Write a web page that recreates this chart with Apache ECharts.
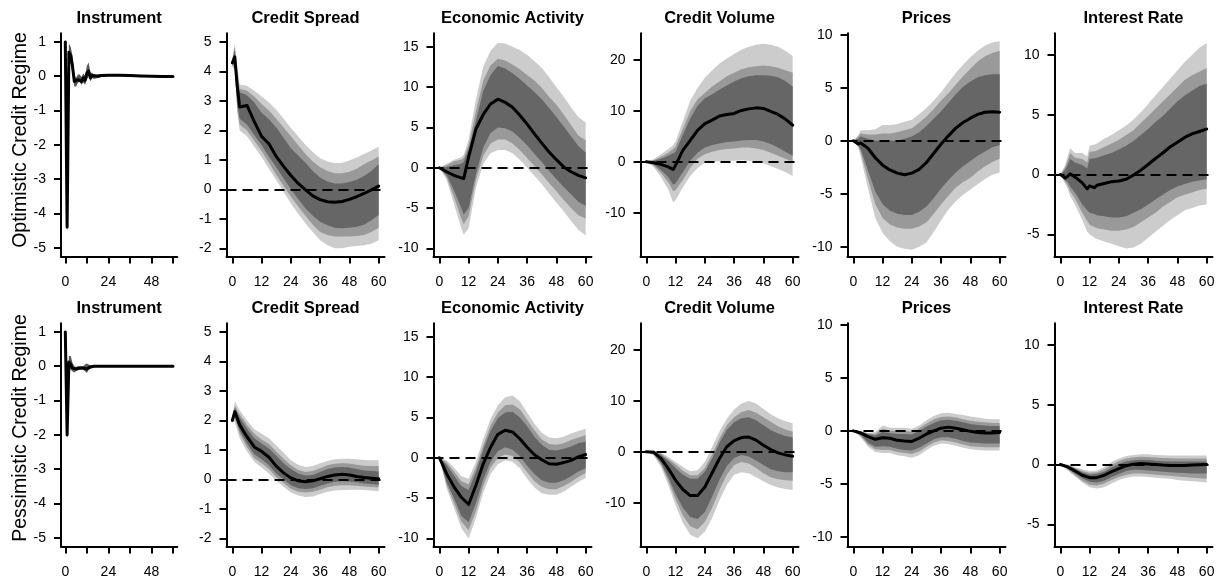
<!DOCTYPE html>
<html><head><meta charset="utf-8">
<script src="https://cdn.jsdelivr.net/npm/echarts@6/dist/echarts.min.js"></script>
<style>html,body{margin:0;padding:0;background:#fff}#chart{width:1221px;height:580px}</style>
</head><body><div id="chart"></div>
<script>
// ---------- labels / ticks ----------
const VARIABLES = ['Instrument','Credit Spread','Economic Activity','Credit Volume','Prices','Interest Rate'];
const REGIMES = ['Optimistic Credit Regime','Pessimistic Credit Regime'];
const X_TICKS = [0,12,24,36,48,60];
const X_LABELS_NARROW = [0,24,48];
const X_LIMITS = [-2.4, 62.4];
const Y_TICKS = [
  [-5,-4,-3,-2,-1,0,1],
  [-2,-1,0,1,2,3,4,5],
  [-10,-5,0,5,10,15],
  [-10,0,10,20],
  [-10,-5,0,5,10],
  [-5,0,5,10]
];
const Y_LIMITS = [[-5.25,1.25],[-2.28,5.3],[-11.0,16.66],[-18.6,25.25],[-10.93,10.16],[-6.86,11.81]];

// ---------- horizons ----------
const H3 = [0,3,6,9,12,15,18,21,24,27,30,33,36,39,42,45,48,51,54,57,60];
const H_INST = [0,1,2,3,4,5,6,7,8,9,10,11,12,13,14,15,16,18,20,24,30,36,42,48,54,60];

// ---------- Instrument ----------
const instOpt_med = [1.0,-4.4,0.7,0.6,0.3,-0.15,-0.2,-0.1,-0.05,-0.15,-0.05,-0.12,0.08,0.15,-0.05,0.02,-0.02,0.0,0.02,0.03,0.03,0.02,0.01,0.0,-0.01,-0.01];
const instOpt_hi  = [1.03,-4.25,0.95,0.85,0.6,0.05,-0.05,0.05,0.05,-0.02,0.08,0.02,0.3,0.4,0.1,0.1,0.05,0.05,0.06,0.06,0.05,0.04,0.03,0.02,0.01,0.01];
const instOpt_lo  = [0.97,-4.55,0.5,0.4,0.05,-0.3,-0.3,-0.2,-0.15,-0.25,-0.18,-0.25,-0.1,0.0,-0.15,-0.05,-0.08,-0.05,-0.02,0.0,0.0,0.0,-0.01,-0.02,-0.03,-0.03];
const instPes_med = [1.0,-2.0,0.12,0.05,-0.05,-0.1,-0.08,-0.06,-0.05,-0.05,-0.05,-0.06,-0.08,-0.03,-0.02,0.0,0.0,0.0,0.0,0.0,0.0,0.0,0.0,0.0,0.0,0.0];
const instPes_hi  = [1.03,-1.85,0.3,0.3,0.1,0.0,-0.02,0.0,0.0,0.0,0.0,0.05,0.08,0.05,0.03,0.03,0.02,0.02,0.02,0.02,0.02,0.02,0.02,0.02,0.02,0.02];
const instPes_lo  = [0.97,-2.15,-0.05,-0.1,-0.15,-0.18,-0.14,-0.12,-0.1,-0.1,-0.1,-0.15,-0.2,-0.1,-0.07,-0.04,-0.03,-0.02,-0.02,-0.02,-0.02,-0.02,-0.02,-0.02,-0.02,-0.02];

// ---------- Credit Spread ----------
const csOpt_x   = [0,1,2,3,6,9,12,15,18,21,24,27,30,33,36,39,42,45,48,51,54,57,60];
const csOpt_med = [4.3,4.5,3.5,2.8,2.85,2.3,1.8,1.55,1.12,0.78,0.47,0.2,-0.02,-0.22,-0.35,-0.42,-0.44,-0.41,-0.34,-0.25,-0.14,-0.02,0.11];
const csOpt_hi3 = [4.45,4.95,4.2,3.56,3.52,3.35,3.16,2.95,2.7,2.4,2.08,1.8,1.51,1.27,1.06,0.95,0.89,0.9,0.98,1.08,1.2,1.32,1.45];
const csOpt_lo3 = [4.15,4.05,2.6,2.0,1.8,1.45,1.1,0.7,0.32,-0.08,-0.48,-0.83,-1.16,-1.45,-1.73,-1.9,-2.0,-2.0,-1.95,-1.92,-1.9,-1.85,-1.73];
const csOpt_hi2 = [4.4,4.85,4.0,3.42,3.35,3.15,2.9,2.68,2.4,2.1,1.8,1.5,1.2,0.95,0.75,0.62,0.55,0.55,0.6,0.7,0.85,0.98,1.12];
const csOpt_lo2 = [4.2,4.15,2.75,2.2,2.0,1.65,1.3,0.9,0.5,0.12,-0.25,-0.58,-0.9,-1.2,-1.45,-1.55,-1.6,-1.6,-1.6,-1.58,-1.55,-1.45,-1.3];
const csOpt_hi1 = [4.38,4.75,3.85,3.3,3.2,2.95,2.6,2.38,2.1,1.75,1.4,1.15,0.9,0.62,0.4,0.27,0.2,0.2,0.25,0.33,0.45,0.62,0.85];
const csOpt_lo1 = [4.22,4.25,2.9,2.4,2.2,1.85,1.5,1.12,0.75,0.38,0.0,-0.33,-0.65,-0.9,-1.1,-1.22,-1.3,-1.32,-1.3,-1.27,-1.2,-1.05,-0.87];

const csPes_x   = [0,1,3,6,9,12,15,18,21,24,27,30,33,36,39,42,45,48,51,54,57,60];
const csPes_med = [2.0,2.3,1.85,1.45,1.1,0.95,0.75,0.45,0.22,0.05,-0.05,-0.08,-0.05,0.02,0.1,0.15,0.17,0.15,0.1,0.06,0.04,0.02];
const csPes_hi3 = [2.05,2.65,2.35,2.0,1.7,1.55,1.4,1.15,0.9,0.65,0.5,0.42,0.45,0.55,0.62,0.68,0.7,0.7,0.68,0.66,0.65,0.65];
const csPes_lo3 = [1.95,1.95,1.4,0.95,0.6,0.4,0.2,-0.05,-0.25,-0.45,-0.55,-0.6,-0.58,-0.5,-0.42,-0.38,-0.36,-0.35,-0.35,-0.36,-0.38,-0.4];
const csPes_hi2 = [2.04,2.5,2.2,1.85,1.55,1.35,1.2,0.95,0.7,0.48,0.32,0.25,0.28,0.38,0.48,0.53,0.55,0.54,0.5,0.46,0.45,0.45];
const csPes_lo2 = [1.96,2.08,1.55,1.1,0.72,0.55,0.35,0.08,-0.12,-0.32,-0.42,-0.45,-0.42,-0.35,-0.27,-0.22,-0.2,-0.2,-0.22,-0.24,-0.26,-0.28];
const csPes_hi1 = [2.03,2.42,2.1,1.72,1.4,1.22,1.05,0.8,0.55,0.35,0.2,0.13,0.15,0.25,0.35,0.4,0.42,0.4,0.35,0.3,0.28,0.27];
const csPes_lo1 = [1.97,2.18,1.65,1.22,0.85,0.68,0.48,0.2,0.0,-0.2,-0.3,-0.33,-0.3,-0.22,-0.14,-0.08,-0.06,-0.07,-0.1,-0.14,-0.16,-0.18];

// ---------- Economic Activity ----------
const eaOpt_x   = [0,3,6,9,10,12,15,18,21,24,27,30,33,36,39,42,45,48,51,54,57,60];
const eaOpt_med = [0,-0.5,-0.95,-1.25,-1.35,1.3,4.8,6.6,7.9,8.5,8.1,7.5,6.5,5.4,4.2,3.05,1.95,1.0,0.1,-0.5,-0.95,-1.25];
const eaOpt_hi3 = [0,0.5,1.0,1.3,1.6,3.5,8.5,12.5,14.5,15.5,15.4,15.0,14.6,14.0,13.2,12.4,11.2,10.0,8.8,7.5,6.3,5.6];
const eaOpt_lo3 = [0,-1.5,-4.5,-7.5,-8.3,-7.5,-2.5,0.5,1.8,2.2,2.2,1.8,1.0,0.0,-1.0,-2.0,-3.2,-4.3,-5.4,-6.6,-7.7,-8.4];
const eaOpt_hi2 = [0,0.3,0.8,1.0,1.2,2.8,7.0,10.8,12.7,13.5,13.3,12.8,12.2,11.5,10.8,9.9,8.8,7.8,6.6,5.3,4.0,3.4];
const eaOpt_lo2 = [0,-1.2,-3.6,-6.3,-7.0,-6.0,-1.5,1.5,3.0,3.5,3.5,3.0,2.2,1.2,0.2,-0.8,-1.9,-2.9,-4.0,-5.0,-5.9,-6.3];
const eaOpt_hi1 = [0,0.1,0.3,0.5,0.7,2.3,5.8,9.5,11.5,12.6,12.3,11.7,11.0,10.2,9.4,8.5,7.4,6.3,5.1,3.9,2.7,1.9];
const eaOpt_lo1 = [0,-0.9,-2.8,-5.0,-5.8,-5.0,-0.8,2.5,4.3,5.0,4.9,4.5,3.7,2.8,1.7,0.7,-0.4,-1.4,-2.4,-3.3,-4.2,-4.7];

const eaPes_med = [0,-2.0,-3.6,-4.9,-5.8,-3.4,-0.75,1.3,2.9,3.4,3.2,2.35,1.3,0.37,-0.25,-0.75,-0.8,-0.6,-0.33,0.1,0.4];
const eaPes_hi3 = [0,-0.3,-1.2,-2.3,-2.6,-0.5,2.3,4.8,6.5,7.5,7.7,7.0,5.6,4.2,3.1,2.5,2.4,2.6,3.0,3.3,3.6];
const eaPes_lo3 = [0,-3.8,-6.2,-8.7,-10.0,-7.5,-4.3,-2.0,-0.8,-0.3,-0.5,-1.3,-2.6,-3.7,-4.4,-4.6,-4.6,-4.2,-3.6,-3.0,-2.5];
const eaPes_hi2 = [0,-0.6,-1.7,-2.9,-3.3,-1.2,1.5,4.0,5.6,6.5,6.6,6.0,4.7,3.4,2.3,1.7,1.6,1.8,2.2,2.5,2.8];
const eaPes_lo2 = [0,-3.4,-5.6,-7.9,-9.0,-6.6,-3.5,-1.2,0.0,0.4,0.2,-0.6,-1.8,-2.9,-3.6,-3.9,-3.9,-3.5,-3.0,-2.4,-1.9];
const eaPes_hi1 = [0,-0.9,-2.2,-3.5,-4.0,-1.8,1.0,3.3,4.9,5.6,5.7,5.0,3.9,2.6,1.6,1.0,0.9,1.1,1.4,1.8,2.0];
const eaPes_lo1 = [0,-3.0,-5.0,-7.2,-8.0,-5.6,-2.7,-0.5,0.8,1.3,1.0,0.2,-1.0,-2.0,-2.8,-3.1,-3.1,-2.8,-2.3,-1.7,-1.3];

// ---------- Credit Volume ----------
const cvOpt_x   = [0,3,6,9,11,12,15,18,21,24,27,30,33,36,39,42,45,48,51,54,57,60];
const cvOpt_med = [0,-0.2,-0.5,-1.0,-1.5,-0.65,2.3,4.2,6.2,7.5,8.2,9.0,9.3,9.5,10.1,10.4,10.6,10.5,9.9,9.3,8.4,7.2];
const cvOpt_hi3 = [0,0.5,1.5,2.5,3.3,4.0,8.0,12.0,14.5,16.5,18.0,19.3,20.3,21.2,22.0,22.6,23.0,23.2,23.0,22.6,21.8,20.8];
const cvOpt_lo3 = [0,-1.0,-3.0,-5.5,-8.0,-7.5,-5.0,-2.8,-1.2,-0.2,0.0,0.1,0.2,0.2,0.3,0.2,0.0,-0.3,-0.8,-1.4,-2.0,-2.8];
const cvOpt_hi2 = [0,0.3,1.0,1.8,2.5,3.0,6.5,10.0,12.3,13.5,14.8,15.8,16.8,17.5,18.2,18.6,18.8,18.9,18.8,18.5,18.0,17.5];
const cvOpt_lo2 = [0,-0.7,-2.2,-4.0,-5.8,-5.6,-3.5,-1.2,0.6,1.5,2.0,2.3,2.5,2.6,2.8,2.8,2.6,2.3,1.8,1.2,0.6,0.0];
const cvOpt_hi1 = [0,0.2,0.6,1.2,1.7,2.0,5.3,8.5,11.0,12.5,13.3,14.2,15.0,15.8,16.4,16.8,17.0,17.0,16.9,16.6,15.9,14.8];
const cvOpt_lo1 = [0,-0.5,-1.6,-3.0,-4.5,-4.2,-2.0,0.2,1.8,2.8,3.3,3.6,3.9,4.0,4.2,4.3,4.3,4.0,3.5,2.8,2.0,1.2];

const cvPes_med = [0,-0.1,-1.3,-3.3,-5.6,-7.4,-8.6,-8.6,-6.9,-4.1,-1.3,1.0,2.2,2.8,2.9,2.3,1.3,0.45,-0.2,-0.6,-0.85];
const cvPes_hi3 = [0,0.3,-0.2,-1.0,-2.0,-3.0,-3.8,-3.6,-2.0,1.0,4.0,6.5,8.3,9.5,10.0,9.5,8.4,7.4,6.6,6.0,5.6];
const cvPes_lo3 = [0,-0.7,-3.0,-6.5,-10.5,-14.0,-16.3,-17.0,-15.7,-13.0,-9.5,-6.5,-4.5,-4.0,-4.2,-5.0,-5.8,-6.5,-7.0,-7.3,-7.5];
const cvPes_hi2 = [0,0.2,-0.4,-1.4,-2.5,-3.7,-4.6,-4.6,-3.2,-0.5,2.6,5.2,6.8,7.8,8.2,7.7,6.8,5.9,5.0,4.4,4.0];
const cvPes_lo2 = [0,-0.5,-2.5,-5.7,-9.3,-12.5,-14.6,-15.2,-13.8,-11.0,-7.5,-4.5,-2.6,-2.0,-2.3,-3.2,-4.2,-5.0,-5.4,-5.6,-5.7];
const cvPes_hi1 = [0,0.1,-0.6,-1.8,-3.2,-4.5,-5.3,-5.3,-3.9,-1.3,1.8,4.3,5.8,6.6,6.8,6.2,5.2,4.3,3.6,3.1,2.8];
const cvPes_lo1 = [0,-0.4,-2.2,-5.0,-8.3,-11.0,-12.8,-13.2,-11.8,-8.8,-5.5,-2.8,-1.2,-0.6,-0.9,-1.7,-2.6,-3.4,-3.8,-4.0,-4.0];

// ---------- Prices ----------
const prOpt_x   = [0,2,3,6,9,12,15,18,21,24,27,30,33,36,39,42,45,48,51,54,57,60];
const prOpt_med = [0,-0.3,-0.2,-0.7,-1.6,-2.3,-2.75,-3.05,-3.2,-3.05,-2.7,-2.05,-1.17,-0.3,0.47,1.2,1.73,2.14,2.5,2.7,2.74,2.7];
const prOpt_hi3 = [0,0.5,1.0,1.0,1.1,1.5,1.5,1.6,1.8,2.0,2.5,3.1,3.8,4.6,5.5,6.4,7.2,7.9,8.5,9.0,9.3,9.4];
const prOpt_lo3 = [0,-0.6,-1.5,-4.5,-7.3,-8.7,-9.5,-10.0,-10.2,-10.3,-10.0,-9.6,-8.6,-7.5,-6.5,-5.7,-5.1,-4.6,-4.1,-3.6,-3.2,-3.0];
const prOpt_hi2 = [0,0.4,0.7,0.6,0.6,0.7,0.7,0.8,1.0,1.2,1.7,2.3,3.0,3.8,4.5,5.3,6.1,6.8,7.5,8.0,8.3,8.5];
const prOpt_lo2 = [0,-0.5,-1.1,-3.6,-6.0,-7.3,-7.9,-8.2,-8.3,-8.3,-8.1,-7.7,-6.9,-6.0,-5.2,-4.4,-3.9,-3.5,-2.9,-2.4,-2.0,-1.7];
const prOpt_hi1 = [0,0.2,0.4,0.2,0.0,0.0,0.0,0.0,0.2,0.4,0.8,1.4,2.1,2.8,3.6,4.4,5.1,5.6,6.0,6.2,6.3,6.3];
const prOpt_lo1 = [0,-0.45,-0.8,-2.8,-4.8,-6.0,-6.6,-6.9,-7.0,-7.0,-6.7,-6.2,-5.4,-4.5,-3.7,-3.0,-2.4,-1.9,-1.4,-1.0,-0.6,-0.4];

const prPes_med = [0,-0.2,-0.55,-0.8,-0.65,-0.7,-0.9,-0.97,-1.0,-0.7,-0.3,0.0,0.25,0.35,0.25,0.1,-0.05,-0.15,-0.2,-0.2,-0.15];
const prPes_hi3 = [0,0.0,-0.2,-0.1,0.5,0.3,0.3,0.3,0.2,0.5,1.0,1.4,1.65,1.7,1.6,1.5,1.35,1.25,1.15,1.1,1.1];
const prPes_lo3 = [0,-0.6,-1.5,-2.0,-2.1,-2.1,-2.3,-2.4,-2.55,-2.3,-1.8,-1.4,-1.2,-1.25,-1.4,-1.6,-1.75,-1.8,-1.85,-1.85,-1.85];
const prPes_hi2 = [0,-0.05,-0.25,-0.3,0.2,0.0,0.0,0.0,-0.1,0.25,0.7,1.1,1.3,1.35,1.25,1.1,0.95,0.85,0.8,0.75,0.75];
const prPes_lo2 = [0,-0.5,-1.3,-1.75,-1.8,-1.8,-2.0,-2.1,-2.2,-1.95,-1.5,-1.1,-0.9,-0.95,-1.1,-1.3,-1.45,-1.5,-1.55,-1.55,-1.55];
const prPes_hi1 = [0,-0.1,-0.3,-0.45,-0.1,-0.2,-0.3,-0.3,-0.35,0.0,0.4,0.75,1.0,1.05,0.95,0.8,0.65,0.55,0.5,0.45,0.45];
const prPes_lo1 = [0,-0.4,-1.1,-1.5,-1.45,-1.5,-1.7,-1.8,-1.85,-1.6,-1.2,-0.8,-0.6,-0.6,-0.75,-0.95,-1.1,-1.15,-1.2,-1.2,-1.2];

// ---------- Interest Rate ----------
const irOpt_x   = [0,2,3,4,6,9,11,12,14,15,18,21,24,27,30,33,36,39,42,45,48,51,54,57,60];
const irOpt_med = [0,-0.3,-0.15,0.05,-0.2,-0.7,-1.2,-0.95,-1.1,-0.9,-0.75,-0.6,-0.55,-0.4,-0.05,0.36,0.84,1.34,1.8,2.3,2.7,3.1,3.4,3.6,3.8];
const irOpt_hi3 = [0,0.8,1.5,2.2,1.8,1.8,1.5,2.4,2.5,2.6,3.0,3.3,3.7,4.1,4.6,5.2,5.9,6.6,7.3,8.0,8.7,9.4,10.0,10.6,11.0];
const irOpt_lo3 = [0,-0.8,-1.2,-1.8,-2.5,-3.8,-4.8,-5.0,-5.3,-5.4,-5.6,-5.8,-6.0,-6.2,-6.1,-5.8,-5.3,-4.8,-4.3,-3.8,-3.4,-3.0,-2.8,-2.6,-2.5];
const irOpt_hi2 = [0,0.6,1.2,1.8,1.4,1.3,1.0,1.9,1.95,2.0,2.3,2.6,2.9,3.3,3.7,4.3,4.9,5.5,6.1,6.7,7.3,7.9,8.3,8.6,8.9];
const irOpt_lo2 = [0,-0.6,-0.9,-1.4,-2.0,-3.2,-3.9,-4.2,-4.4,-4.5,-4.6,-4.7,-4.7,-4.6,-4.4,-4.0,-3.6,-3.2,-2.7,-2.3,-1.9,-1.7,-1.5,-1.3,-1.2];
const irOpt_hi1 = [0,0.4,0.8,1.3,1.0,0.8,0.5,1.3,1.35,1.4,1.6,1.8,2.1,2.4,2.8,3.3,3.8,4.4,4.9,5.5,6.1,6.6,7.0,7.4,7.6];
const irOpt_lo1 = [0,-0.5,-0.6,-1.0,-1.5,-2.5,-3.0,-3.2,-3.3,-3.4,-3.5,-3.6,-3.6,-3.5,-3.2,-2.9,-2.5,-2.1,-1.7,-1.3,-1.0,-0.8,-0.6,-0.5,-0.4];

const irPes_med = [0,-0.2,-0.55,-0.9,-1.1,-1.1,-0.9,-0.6,-0.35,-0.1,0.03,0.08,0.05,0.0,-0.05,-0.08,-0.08,-0.08,-0.05,-0.03,0.0];
const irPes_hi3 = [0,0.0,-0.2,-0.4,-0.55,-0.5,-0.2,0.2,0.5,0.7,0.8,0.85,0.85,0.8,0.78,0.75,0.75,0.75,0.75,0.75,0.75];
const irPes_lo3 = [0,-0.5,-1.0,-1.5,-1.9,-2.0,-1.9,-1.6,-1.3,-1.1,-1.0,-1.0,-1.05,-1.1,-1.15,-1.2,-1.3,-1.35,-1.4,-1.45,-1.5];
const irPes_hi2 = [0,-0.05,-0.3,-0.55,-0.7,-0.65,-0.4,-0.05,0.3,0.5,0.6,0.65,0.62,0.58,0.55,0.52,0.5,0.5,0.5,0.5,0.5];
const irPes_lo2 = [0,-0.4,-0.9,-1.35,-1.7,-1.75,-1.6,-1.3,-1.05,-0.85,-0.75,-0.75,-0.8,-0.85,-0.9,-0.95,-1.0,-1.05,-1.1,-1.15,-1.2];
const irPes_hi1 = [0,-0.1,-0.35,-0.65,-0.85,-0.8,-0.6,-0.25,0.05,0.25,0.35,0.4,0.38,0.32,0.28,0.25,0.25,0.25,0.25,0.25,0.25];
const irPes_lo1 = [0,-0.3,-0.75,-1.15,-1.45,-1.5,-1.35,-1.05,-0.8,-0.55,-0.45,-0.45,-0.5,-0.55,-0.6,-0.65,-0.7,-0.72,-0.75,-0.75,-0.75];

// ---------- panel table (built from the arrays above) ----------
const panels = [
  {row:0,col:0,x:H_INST, med:instOpt_med, bands:[[instOpt_lo,instOpt_hi]]},
  {row:0,col:1,x:csOpt_x, med:csOpt_med, bands:[[csOpt_lo3,csOpt_hi3],[csOpt_lo2,csOpt_hi2],[csOpt_lo1,csOpt_hi1]]},
  {row:0,col:2,x:eaOpt_x, med:eaOpt_med, bands:[[eaOpt_lo3,eaOpt_hi3],[eaOpt_lo2,eaOpt_hi2],[eaOpt_lo1,eaOpt_hi1]]},
  {row:0,col:3,x:cvOpt_x, med:cvOpt_med, bands:[[cvOpt_lo3,cvOpt_hi3],[cvOpt_lo2,cvOpt_hi2],[cvOpt_lo1,cvOpt_hi1]]},
  {row:0,col:4,x:prOpt_x, med:prOpt_med, bands:[[prOpt_lo3,prOpt_hi3],[prOpt_lo2,prOpt_hi2],[prOpt_lo1,prOpt_hi1]]},
  {row:0,col:5,x:irOpt_x, med:irOpt_med, bands:[[irOpt_lo3,irOpt_hi3],[irOpt_lo2,irOpt_hi2],[irOpt_lo1,irOpt_hi1]]},
  {row:1,col:0,x:H_INST, med:instPes_med, bands:[[instPes_lo,instPes_hi]]},
  {row:1,col:1,x:csPes_x, med:csPes_med, bands:[[csPes_lo3,csPes_hi3],[csPes_lo2,csPes_hi2],[csPes_lo1,csPes_hi1]]},
  {row:1,col:2,x:H3, med:eaPes_med, bands:[[eaPes_lo3,eaPes_hi3],[eaPes_lo2,eaPes_hi2],[eaPes_lo1,eaPes_hi1]]},
  {row:1,col:3,x:H3, med:cvPes_med, bands:[[cvPes_lo3,cvPes_hi3],[cvPes_lo2,cvPes_hi2],[cvPes_lo1,cvPes_hi1]]},
  {row:1,col:4,x:H3, med:prPes_med, bands:[[prPes_lo3,prPes_hi3],[prPes_lo2,prPes_hi2],[prPes_lo1,prPes_hi1]]},
  {row:1,col:5,x:H3, med:irPes_med, bands:[[irPes_lo3,irPes_hi3],[irPes_lo2,irPes_hi2],[irPes_lo1,irPes_hi1]]}
];

// ---------- layout & style ----------
const FONT = "'Liberation Sans', Arial, Helvetica, sans-serif";
const ROW_TOP = [33.3, 323.3];
const PLOT_H = 223.2;
const COL_LEFT = [61, 226.5, 433.5, 640.5, 847.5, 1054.5];
const COL_W = [116.3, 158, 158, 158, 158, 158];
const TITLE_Y = [18.3, 308.3];
const ROW_LABEL_X = 21;
const ROW_LABEL_Y = [140, 428];
const BAND_COLORS = ['#cccccc', '#999999', '#666666'];
const INST_BAND_COLOR = '#555555';
const TICK_FONT = 14;

function bandRenderer(xs, lo, hi, color) {
  return function (params, api) {
    if (params.dataIndex !== 0) return null;
    const pts = [];
    for (let i = 0; i < xs.length; i++) pts.push(api.coord([xs[i], hi[i]]));
    for (let i = xs.length - 1; i >= 0; i--) pts.push(api.coord([xs[i], lo[i]]));
    return { type: 'polygon', shape: { points: pts }, style: { fill: color, stroke: null } };
  };
}

const grid = [], xAxis = [], yAxis = [], series = [], graphic = [];
panels.forEach((p, i) => {
  const left = COL_LEFT[p.col], top = ROW_TOP[p.row], w = COL_W[p.col];
  grid.push({ left: left, top: top, width: w, height: PLOT_H, containLabel: false, outerBoundsMode: 'none' });
  xAxis.push({
    gridIndex: i, type: 'value', min: X_LIMITS[0], max: X_LIMITS[1], position: 'bottom',
    axisLine: { show: true, onZero: false, lineStyle: { color: '#000', width: 2 } },
    axisTick: { show: true, length: 7, customValues: X_TICKS, lineStyle: { color: '#000', width: 2 } },
    axisLabel: { show: true, customValues: p.col === 0 ? X_LABELS_NARROW : X_TICKS, margin: 19,
      color: '#000', fontSize: TICK_FONT, fontFamily: FONT },
    splitLine: { show: false }
  });
  yAxis.push({
    gridIndex: i, type: 'value', min: Y_LIMITS[p.col][0], max: Y_LIMITS[p.col][1], position: 'left',
    axisLine: { show: true, onZero: false, lineStyle: { color: '#000', width: 2 } },
    axisTick: { show: true, length: 7, customValues: Y_TICKS[p.col], lineStyle: { color: '#000', width: 2 } },
    axisLabel: { show: true, customValues: Y_TICKS[p.col], margin: 15,
      color: '#000', fontSize: TICK_FONT, fontFamily: FONT },
    splitLine: { show: false }
  });
  p.bands.forEach((b, k) => {
    const color = p.bands.length === 1 ? INST_BAND_COLOR : BAND_COLORS[k];
    series.push({
      type: 'custom', xAxisIndex: i, yAxisIndex: i, silent: true, z: 1 + k,
      data: [[p.x[0], b[0][0]]],
      renderItem: bandRenderer(p.x, b[0], b[1], color)
    });
  });
  if (p.col > 0) {
    series.push({
      type: 'line', xAxisIndex: i, yAxisIndex: i, data: [], silent: true, z: 4,
      markLine: { silent: true, symbol: ['none', 'none'], label: { show: false }, animation: false,
        lineStyle: { color: '#000', width: 2, type: [10, 6] }, data: [{ yAxis: 0 }] }
    });
  }
  series.push({
    type: 'line', xAxisIndex: i, yAxisIndex: i, silent: true, z: 5,
    data: p.x.map((t, j) => [t, p.med[j]]),
    showSymbol: false, symbol: 'none',
    lineStyle: { color: '#000', width: 3, join: 'round', cap: 'round' }
  });
  graphic.push({
    type: 'text', x: left + w / 2, y: TITLE_Y[p.row], silent: true,
    style: { text: VARIABLES[p.col], fill: '#000', fontSize: 16.5, fontWeight: 'bold', fontFamily: FONT,
      align: 'center', verticalAlign: 'middle', textAlign: 'center', textVerticalAlign: 'middle' }
  });
});
REGIMES.forEach((r, k) => {
  graphic.push({
    type: 'text', x: ROW_LABEL_X, y: ROW_LABEL_Y[k], rotation: Math.PI / 2, silent: true,
    style: { text: r, fill: '#000', fontSize: 19.5, fontFamily: FONT,
      align: 'center', verticalAlign: 'middle', textAlign: 'center', textVerticalAlign: 'middle' }
  });
});

const chart = echarts.init(document.getElementById('chart'), null, { renderer: 'canvas' });
chart.setOption({
  animation: false,
  backgroundColor: '#fff',
  grid: grid, xAxis: xAxis, yAxis: yAxis, series: series, graphic: graphic
});
</script></body></html>
